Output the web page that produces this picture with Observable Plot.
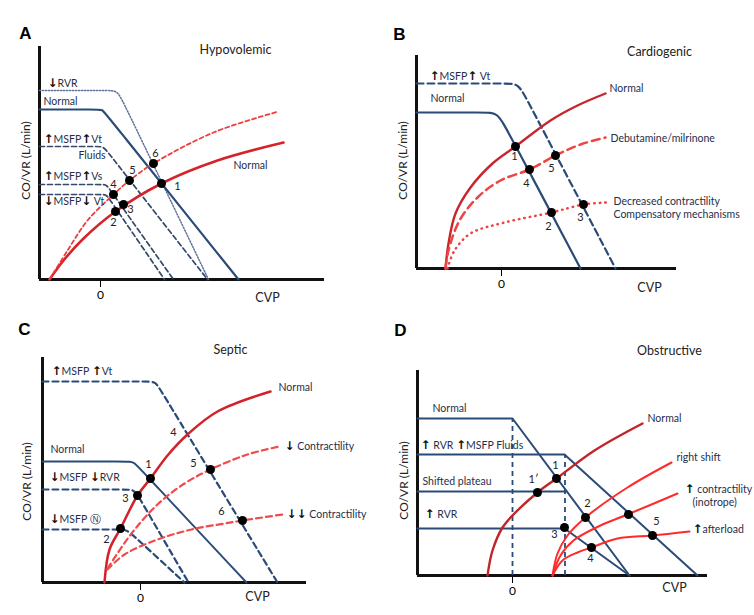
<!DOCTYPE html>
<html><head><meta charset="utf-8">
<script src="https://cdn.jsdelivr.net/npm/d3@7"></script>
<script src="https://cdn.jsdelivr.net/npm/@observablehq/plot@0.6"></script>
<style>
body{margin:0;background:#fff;}
#wrap{position:relative;width:754px;height:615px;overflow:hidden;}
.panel{position:absolute;}
.panel svg{overflow:visible;}
</style>
</head><body><div id="wrap"></div>
<script>
// ---------- Panel A : Hypovolemic ----------
const A_rvr      = [[-61,189],[8,189],[17,189],[24,175],[108,0]];
const A_normal   = [[-61,170],[-3,170],[2,170],[5,166],[138,0]];
const A_msfpVt   = [[-61,133],[-2,133],[3,133],[10,124],[107,0]];
const A_msfpVs   = [[-61,95],[2,95],[6,95],[12,86],[73,0]];
const A_msfpDown = [[-61,85],[2,85],[6,85],[12,76],[64,0]];
const A_redNormal = [[-51,0],[-37,19],[-17,41],[15,68],[61,96],[117,119],[183,137]];
const A_redDash   = [[-51,0],[-33,29],[-13,59],[13,85],[29,99],[53,116],[113,147],[178,168]];
const A_dots = [[61,96],[15,68],[23,75],[13,85],[29,99],[53,116]];
const A_nums = [[77,93,"1"],[13,57,"2"],[30,70,"3"],[13,95,"4"],[32,109,"5"],[55,126,"6"]];
const A_labels = [[-53,196,"↓RVR"],[-57,178,"Normal"],[-57,140,"↑MSFP↑Vt"],[-22,124,"Fluids"],[-57,103,"↑MSFP↑Vs"],[-57,78,"↓MSFP↓ Vt"]];
const A_redLabels = [[133,114,"Normal"]];

// ---------- Panel B : Cardiogenic ----------
const B_up     = [[-85,185],[5,185],[17,185],[26,168],[114,0]];
const B_normal = [[-85,156],[-16,156],[-4,156],[6,138],[79,0]];
const B_redNormal = [[-56,0],[-53,25],[-46,55],[-31,81],[-9,105],[14,122],[49,148],[76,163],[104,175]];
const B_redDash   = [[-56,0],[-53,18],[-42,48],[-24,71],[-1,88],[28,99],[54,113],[79,124],[104,131]];
const B_redDot    = [[-54,0],[-47,18],[-31,35],[3,46],[50,56],[82,64],[106,66]];
const B_dots = [[14,122],[28,99],[54,113],[50,56],[82,64]];
const B_nums = [[13,112,"1"],[25,85,"4"],[50,100,"5"],[47,42,"2"],[79,51,"3"]];
const B_labels = [[-72,192,"↑MSFP↑ Vt"],[-71,170,"Normal"]];
const B_redLabels = [[108,180,"Normal"],[109,130,"Debutamine/milrinone"],[112,67,"Decreased contractility"],[112,54,"Compensatory mechanisms"]];

// ---------- Panel C : Septic ----------
const C_up     = [[-98,201],[7,201],[15,201],[21,191],[137,0]];
const C_normal = [[-98,121],[-11,121],[-7,121],[4,109],[106,0]];
const C_down   = [[-98,93],[-18,93],[-6,93],[-2,86],[48,0]];
const C_n      = [[-98,53],[-22,53],[-14,53],[-6,46],[44,0]];
const C_redNormal = [[-36,0],[-31,33],[-20,54],[-3,87],[10,104],[27,127],[47,148],[77,171],[130,191]];
const C_redDash1  = [[-33,14],[-9,49],[17,78],[44,99],[70,113],[107,128],[139,136]];
const C_redDash2  = [[-33,13],[-16,28],[17,43],[51,53],[84,59],[102,62],[142,68]];
const C_dots = [[10,104],[-20,54],[-3,87],[70,113],[102,62]];
const C_nums = [[8,118,"1"],[-34,43,"2"],[-15,84,"3"],[33,150,"4"],[53,119,"5"],[81,71,"6"]];
const C_labels = [[-89,211,"↑MSFP ↑Vt"],[-90,133,"Normal"],[-91,105,"↓MSFP ↓RVR"],[-91,63,"↓MSFP Ⓝ"]];
const C_redLabels = [[138,195,"Normal"],[144,136,"↓ Contractility"],[146,68,"↓↓ Contractility"]];

// ---------- Panel D : Obstructive ----------
const D_normal = [[-95,157],[0,157],[117,0]];
const D_fluids = [[-95,121],[52,121],[185,0]];
const D_shift  = [[-95,84],[53,84]];
const D_rvr    = [[-95,47],[52,47],[117,0]];
const D_vdash  = [[0,157],[52.5,121]];
const D_redNormal = [[-25,0],[-20,25],[-10,48],[0,60],[25,83],[44,97],[82,125],[130,152]];
const D_right     = [[40,0],[45,22],[55,40],[73,58],[115,88],[159,113]];
const D_contr     = [[40,0],[48,20],[61,35],[88,50],[115,61],[165,82]];
const D_after     = [[40,0],[50,15],[65,23],[79,28],[105,37],[140,40],[177,44]];
const D_dots = [[44,97],[25,83],[73,58],[52,48],[79,28],[116,61],[140,40]];
const D_nums = [[43,110,"1"],[21,96,"1′"],[75,72,"2"],[42,41,"3"],[78,17,"4"],[144,54,"5"]];
const D_labels = [[-80,167,"Normal"],[-92,130,"↑ RVR ↑MSFP Fluids"],[-90,94,"Shifted plateau"],[-88,61,"↑ RVR"]];
const D_redLabels = [[135,157,"Normal"],[164,118,"right shift"],[172,86,"↑ contractility"],[180,73,"(inotrope)"],[180,46,"↑afterload"]];

// ---------- helpers ----------
const BLUE = "#2a4b77", TXT = "#1f2f4a", FONT = "Lato, 'Open Sans', sans-serif";
const L = (data, o) => Plot.line(data, {x: d => d[0], y: d => d[1], ...o});
const T = (data, o) => Plot.text(data, {x: d => d[0], y: d => d[1], text: d => d[2], ...o});
const dots = data => Plot.dot(data, {x: d => d[0], y: d => d[1], r: 4.5, fill: "black"});
const axes = xmin => [
  Plot.axisX({ticks: [0], tickSize: 8, tickPadding: 3, tickFormat: d => String(d), fontSize: 12, label: null}),
  Plot.ruleY([0], {stroke: "#111", strokeWidth: 3}),
  Plot.ruleX([xmin], {stroke: "#111", strokeWidth: 3})
];
function frameText(letter, title, cvp, ylab) {
  return [
    T([letter], {fontSize: 17, fontWeight: "bold", fontFamily: "'Liberation Sans', Arial, sans-serif", fill: "#000"}),
    T([title], {fontSize: 12.5, fill: "#222"}),
    T([cvp], {fontSize: 12.5, fill: "#222"}),
    T([ylab], {fontSize: 12, rotate: -90, fill: "#222"})
  ];
}
// render arrow glyphs as heavy arrows (as in the original figure)
function boldArrows(svg) {
  svg.querySelectorAll("text").forEach(t => {
    const s = t.textContent;
    if (!/[↑↓]/.test(s) || t.children.length) return;
    t.textContent = "";
    for (const part of s.split(/([↑↓])/)) {
      if (!part) continue;
      const sp = document.createElementNS("http://www.w3.org/2000/svg", "tspan");
      sp.textContent = part;
      if (part === "↑" || part === "↓") {
        sp.setAttribute("font-weight", "bold");
        sp.setAttribute("font-family", "'DejaVu Sans', sans-serif");
        sp.setAttribute("font-size", "12");
        sp.setAttribute("fill", "#111");
      }
      t.appendChild(sp);
    }
  });
}
const wrap = document.getElementById("wrap");
function panel(left, top, width, height, m, xd, yd, marks) {
  const svg = Plot.plot({
    width, height,
    marginLeft: m[0], marginRight: m[1], marginTop: m[2], marginBottom: m[3],
    x: {domain: xd}, y: {domain: yd, axis: null},
    style: {fontFamily: FONT, fontSize: "11px", background: "transparent", overflow: "visible"},
    marks
  });
  boldArrows(svg);
  const div = document.createElement("div");
  div.className = "panel";
  div.style.left = left + "px"; div.style.top = top + "px";
  div.appendChild(svg);
  wrap.appendChild(div);
}

// ---------- Panel A ----------
panel(0, 0, 377, 310, [39, 53, 46, 31], [-61, 224], [0, 233], [
  ...axes(-61),
  L(A_rvr, {curve: "basis", stroke: "#5f7196", strokeWidth: 1.5, strokeDasharray: "1.3,1.7"}),
  L(A_normal, {curve: "basis", stroke: BLUE, strokeWidth: 2.2}),
  L(A_msfpVt, {curve: "basis", stroke: "#34496b", strokeWidth: 1.7, strokeDasharray: "5,3"}),
  L(A_msfpVs, {curve: "basis", stroke: "#34496b", strokeWidth: 1.7, strokeDasharray: "5,3"}),
  L(A_msfpDown, {curve: "basis", stroke: "#34496b", strokeWidth: 1.7, strokeDasharray: "5,3"}),
  L(A_redNormal, {curve: "catmull-rom", stroke: "#d4232b", strokeWidth: 2.6}),
  L(A_redDash, {curve: "catmull-rom", stroke: "#ef3d3d", strokeWidth: 1.8, strokeDasharray: "4,3"}),
  dots(A_dots),
  T(A_nums, {fontSize: 11, fill: "#222"}),
  T(A_labels, {textAnchor: "start", fontSize: 10.5, fill: TXT}),
  T(A_redLabels, {textAnchor: "start", fontSize: 10.5, fill: TXT}),
  ...frameText([-75, 246, "A"], [135, 230, "Hypovolemic"], [167, -18, "CVP"], [-74, 119, "CO/VR (L/min)"])
]);

// ---------- Panel B ----------
panel(377, 0, 377, 310, [39, 78, 55, 42], [-85, 175], [0, 213], [
  ...axes(-85),
  L(B_up, {curve: "basis", stroke: BLUE, strokeWidth: 2.2, strokeDasharray: "7,4"}),
  L(B_normal, {curve: "basis", stroke: BLUE, strokeWidth: 2.2}),
  L(B_redNormal, {curve: "catmull-rom", stroke: "#c8262c", strokeWidth: 2.4}),
  L(B_redDash, {curve: "catmull-rom", stroke: "#ee4444", strokeWidth: 2.5, strokeDasharray: "8,5"}),
  L(B_redDot, {curve: "catmull-rom", stroke: "#ee4444", strokeWidth: 2.5, strokeDasharray: "0.5,5", strokeLinecap: "round"}),
  dots(B_dots),
  T(B_nums, {fontSize: 11, fill: "#222"}),
  T(B_labels, {textAnchor: "start", fontSize: 10.5, fill: TXT}),
  T(B_redLabels, {textAnchor: "start", fontSize: 10.5, fill: TXT}),
  ...frameText([-102, 234, "B"], [158, 217, "Cardiogenic"], [148, -19, "CVP"], [-98, 108, "CO/VR (L/min)"])
]);

// ---------- Panel C ----------
panel(0, 310, 377, 305, [42, 71, 47, 33], [-98, 166], [0, 225], [
  ...axes(-98),
  L(C_up, {curve: "basis", stroke: BLUE, strokeWidth: 2.2, strokeDasharray: "6,4"}),
  L(C_normal, {curve: "basis", stroke: BLUE, strokeWidth: 1.9}),
  L(C_down, {curve: "basis", stroke: BLUE, strokeWidth: 2.2, strokeDasharray: "6,4"}),
  L(C_n, {curve: "basis", stroke: BLUE, strokeWidth: 2.2, strokeDasharray: "6,4"}),
  L(C_redNormal, {curve: "catmull-rom", stroke: "#d0232b", strokeWidth: 2.5}),
  L(C_redDash1, {curve: "catmull-rom", stroke: "#f04a4a", strokeWidth: 2.2, strokeDasharray: "6,4"}),
  L(C_redDash2, {curve: "catmull-rom", stroke: "#f04a4a", strokeWidth: 2.2, strokeDasharray: "6,4"}),
  dots(C_dots),
  T(C_nums, {fontSize: 11, fill: "#222"}),
  T(C_labels, {textAnchor: "start", fontSize: 10.5, fill: TXT}),
  T(C_redLabels, {textAnchor: "start", fontSize: 10.5, fill: TXT}),
  ...frameText([-116, 253, "C"], [90, 233, "Septic"], [117, -14, "CVP"], [-113, 101, "CO/VR (L/min)"])
]);

// ---------- Panel D ----------
panel(377, 310, 377, 305, [40, 47, 60, 40], [-95, 195], [0, 205], [
  ...axes(-95),
  Plot.ruleX(D_vdash, {x: d => d[0], y1: 0, y2: d => d[1], stroke: BLUE, strokeWidth: 1.8, strokeDasharray: "5,4"}),
  L(D_normal, {stroke: BLUE, strokeWidth: 2}),
  L(D_fluids, {stroke: BLUE, strokeWidth: 2}),
  L(D_shift, {stroke: BLUE, strokeWidth: 2}),
  L(D_rvr, {stroke: BLUE, strokeWidth: 2}),
  L(D_redNormal, {curve: "catmull-rom", stroke: "#c0252b", strokeWidth: 2.4}),
  L(D_right, {curve: "catmull-rom", stroke: "#ff2b2b", strokeWidth: 2}),
  L(D_contr, {curve: "catmull-rom", stroke: "#ff2b2b", strokeWidth: 2}),
  L(D_after, {curve: "catmull-rom", stroke: "#ff2b2b", strokeWidth: 2}),
  dots(D_dots),
  T(D_nums, {fontSize: 11, fill: "#222"}),
  T(D_labels, {textAnchor: "start", fontSize: 10.5, fill: TXT}),
  T(D_redLabels, {textAnchor: "start", fontSize: 10.5, fill: TXT}),
  ...frameText([-112, 245, "D"], [157, 225, "Obstructive"], [162, -12, "CVP"], [-108, 95, "CO/VR (L/min)"])
]);
</script>
</body></html>
